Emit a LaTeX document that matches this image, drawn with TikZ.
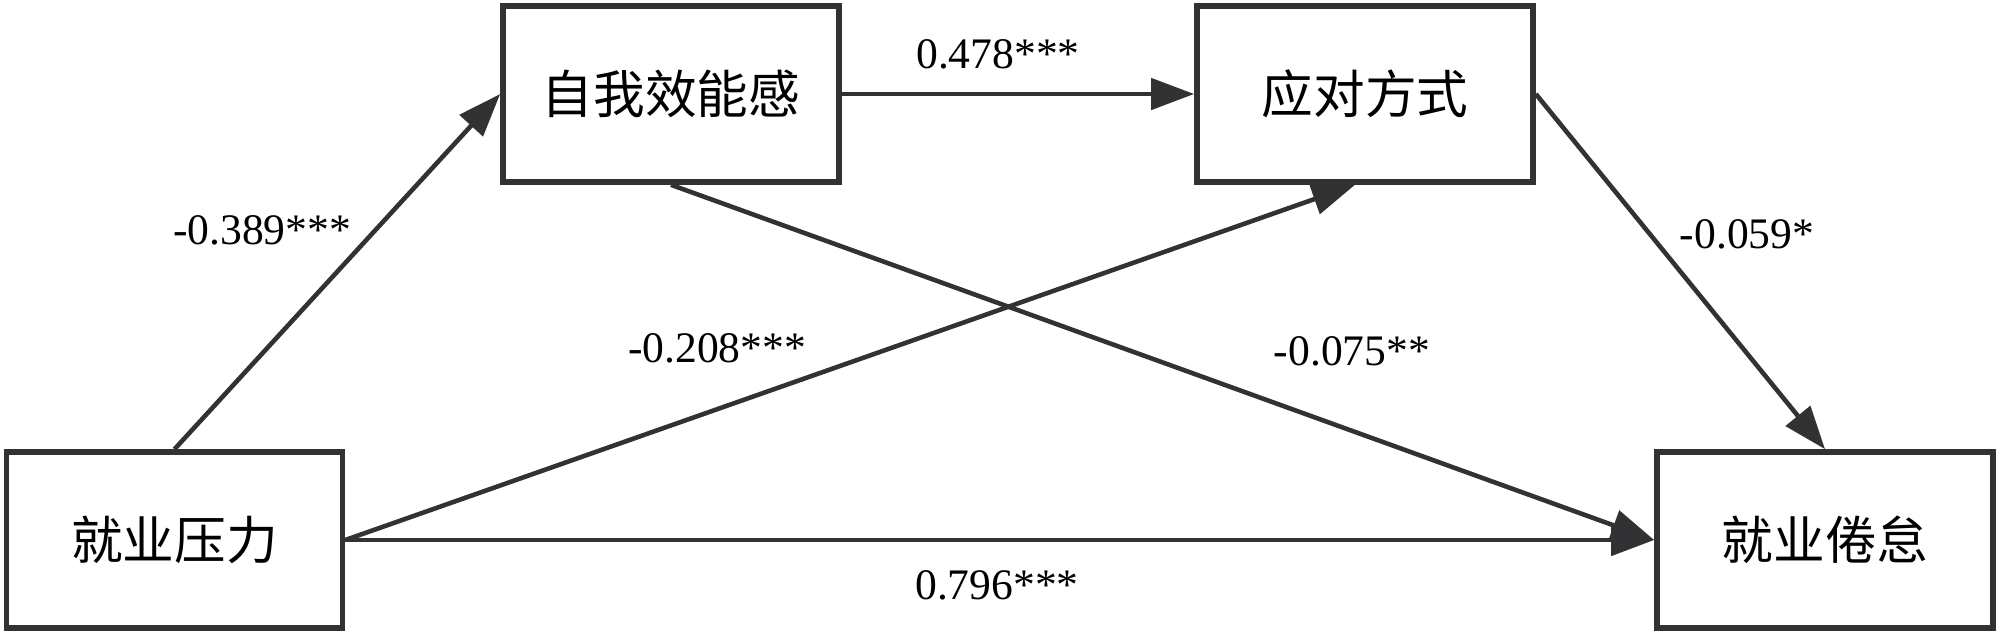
\documentclass[tikz,border=0pt]{standalone}
\usepackage{fontspec}
\setmainfont{Liberation Serif}
\newfontfamily\cjk{Noto Sans CJK SC}
\usetikzlibrary{arrows.meta,calc}

\definecolor{linegray}{RGB}{50,50,53}

\begin{document}
\begin{tikzpicture}[>={Triangle[length=4.3mm,width=3.1mm]}]

\def\bw{3.36}
\def\bh{1.76}
\def\yTop{5.40}
\def\yBot{0.94}

\tikzset{
  box/.style={draw=linegray, line width=1.6pt, minimum width=\bw cm,
    minimum height=\bh cm, inner sep=0pt, font=\cjk\fontsize{14.7}{16}\selectfont},
  link/.style={->, draw=linegray, fill=linegray, line width=1.3pt},
  coef/.style={font=\fontsize{12.4}{14}\selectfont}
}

\useasboundingbox (0,0) rectangle (20,6.34);

\node[box] (stress) at (1.745,\yBot) {就业压力};
\node[box] (efficacy) at (6.71,\yTop) {自我效能感};
\node[box] (coping) at (13.65,\yTop) {应对方式};
\node[box] (burnout) at (18.25,\yBot) {就业倦怠};

\draw[link] (stress.north) -- (efficacy.west);
\draw[link] (efficacy.east) -- (coping.west);
\draw[link] (stress.east) -- ([xshift=-1mm]coping.south);
\draw[link] (efficacy.south) -- (burnout.west);
\draw[link] (coping.east) -- (burnout.north);
\draw[link] (stress.east) -- (burnout.west);

\node[coef] (c1) at (2.62,4.04) {-0.389***};
\node[coef] (c2) at (9.98,5.80) {0.478***};
\node[coef] (c3) at (17.47,4.00) {-0.059*};
\node[coef] (c4) at (7.17,2.86) {-0.208***};
\node[coef] (c5) at (13.52,2.83) {-0.075**};
\node[coef] (c6) at (9.97,0.49) {0.796***};

\end{tikzpicture}
\end{document}
